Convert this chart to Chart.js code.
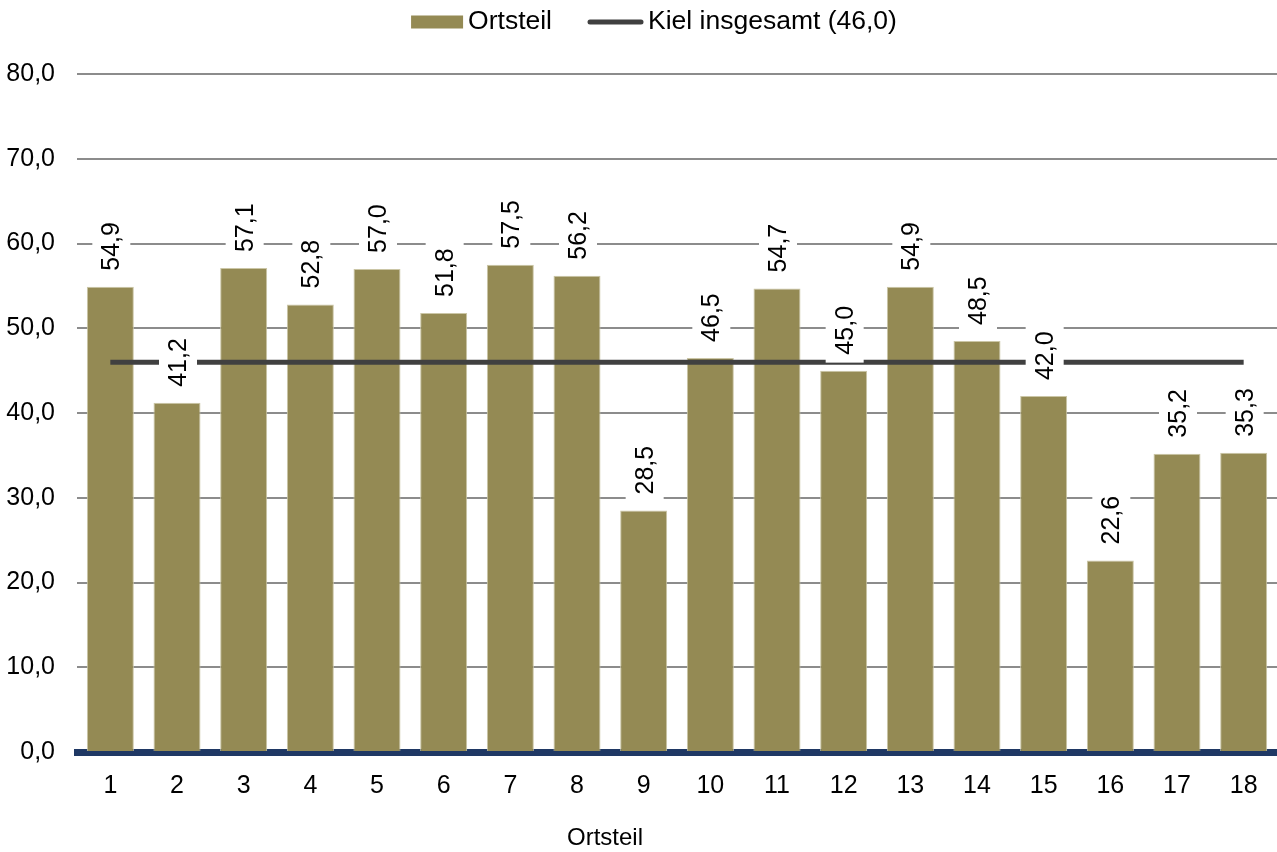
<!DOCTYPE html>
<html>
<head>
<meta charset="utf-8">
<script src="https://cdn.jsdelivr.net/npm/chart.js@4/dist/chart.umd.min.js"></script>
<style>
  body { margin: 0; background: #fff; }
  canvas { display: block; }
</style>
</head>
<body>
<canvas id="chart" width="1277" height="852"></canvas>
<script>
const categories = ['1', '2', '3', '4', '5', '6', '7', '8', '9', '10', '11', '12', '13', '14', '15', '16', '17', '18'];
const ortsteilValues = [54.9, 41.2, 57.1, 52.8, 57.0, 51.8, 57.5, 56.2, 28.5, 46.5, 54.7, 45.0, 54.9, 48.5, 42.0, 22.6, 35.2, 35.3];
const kielTotal = 46.0;
const kielValues = categories.map(() => kielTotal);

const seriesNames = ['Ortsteil', 'Kiel insgesamt (46,0)'];
const axisTitle = 'Ortsteil';

const FONT = '"Liberation Sans", Arial, sans-serif';
const BAR_COLOR = '#948a54';
const LINE_COLOR = '#404040';

const fmt = v => v.toFixed(1).replace('.', ',');

// labels, legend and axis title drawn by hand
const extras = {
	id: 'extras',
	afterDatasetsDraw(chart) {
		const ctx = chart.ctx;
		const meta = chart.getDatasetMeta(1);
		ctx.save();
		ctx.font = '25px ' + FONT;
		meta.data.forEach((bar, i) => {
			const text = fmt(ortsteilValues[i]);
			const w = ctx.measureText(text).width;
			ctx.save();
			ctx.translate(bar.x + 1, bar.y - 8);
			ctx.rotate(-Math.PI / 2);
			ctx.fillStyle = '#ffffff';
			ctx.fillRect(0, -19, w + 16, 38);
			ctx.fillStyle = '#000000';
			ctx.textAlign = 'left';
			ctx.textBaseline = 'middle';
			ctx.fillText(text, 8, 1);
			ctx.restore();
		});
		ctx.restore();
	},
	afterDraw(chart) {
		const ctx = chart.ctx;
		ctx.save();
		ctx.font = '26.5px ' + FONT;
		ctx.textBaseline = 'middle';
		ctx.fillStyle = '#000000';
		const w1 = ctx.measureText(seriesNames[0]).width;
		const w2 = ctx.measureText(seriesNames[1]).width;
		const total = 52 + 5 + w1 + 36 + 55 + 5 + w2;
		let x = 654 - total / 2;
		const y = 22;
		ctx.fillStyle = BAR_COLOR;
		ctx.fillRect(x, y - 6.5, 52, 13);
		x += 57;
		ctx.fillStyle = '#000000';
		ctx.fillText(seriesNames[0], x, y);
		x += w1 + 36;
		ctx.strokeStyle = LINE_COLOR;
		ctx.lineWidth = 5;
		ctx.lineCap = 'round';
		ctx.beginPath();
		ctx.moveTo(x + 2, y);
		ctx.lineTo(x + 53, y);
		ctx.stroke();
		x += 60;
		ctx.fillText(seriesNames[1], x, y);

		ctx.font = '24px ' + FONT;
		ctx.textAlign = 'center';
		ctx.fillText(axisTitle, 605, 838);
		ctx.restore();
	}
};

new Chart(document.getElementById('chart'), {
	type: 'bar',
	data: {
		labels: categories,
		datasets: [{
			type: 'line',
			label: seriesNames[1],
			data: kielValues,
			borderColor: LINE_COLOR,
			borderWidth: 5,
			pointRadius: 0,
			fill: false,
			borderCapStyle: 'butt',
			order: 0
		}, {
			label: seriesNames[0],
			data: ortsteilValues,
			backgroundColor: BAR_COLOR,
			borderColor: '#cbc6a6',
			borderWidth: 1,
			barPercentage: 0.705,
			categoryPercentage: 1,
			order: 1
		}]
	},
	plugins: [extras],
	options: {
		responsive: false,
		devicePixelRatio: 1,
		animation: false,
		layout: { padding: { top: 74, right: 0, left: 0, bottom: 0 } },
		plugins: {
			legend: { display: false },
			tooltip: { enabled: false }
		},
		scales: {
			x: {
				z: 1,
				grid: { display: false, drawTicks: false },
				border: { color: '#1f3864', width: 7 },
				ticks: { color: '#000', font: { family: FONT, size: 25 }, padding: 19, maxRotation: 0 },
				afterFit: s => { s.height = 100; }
			},
			y: {
				min: 0,
				max: 80,
				grid: {
					drawTicks: false,
					lineWidth: 2,
					color: c => c.tick && c.tick.value === 0 ? 'rgba(0,0,0,0)' : '#8c8c8c'
				},
				border: { display: false },
				ticks: {
					stepSize: 10,
					color: '#000',
					padding: 22,
					font: { family: FONT, size: 25 },
					callback: v => fmt(v)
				},
				afterFit: s => { s.width = 77; }
			}
		}
	}
});
</script>
</body>
</html>
